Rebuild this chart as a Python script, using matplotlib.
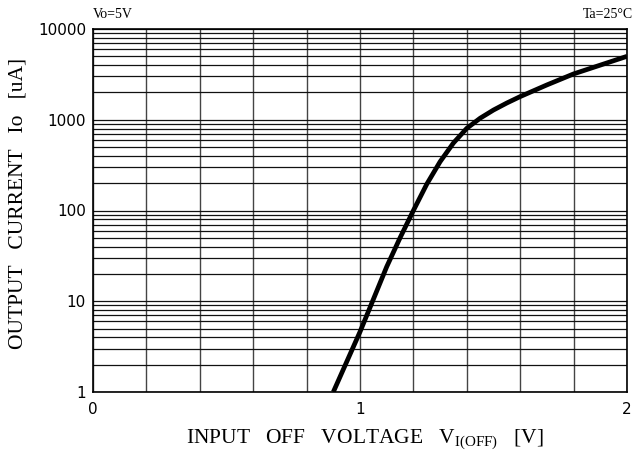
import matplotlib
matplotlib.use('Agg')
import numpy as np
import matplotlib.pyplot as plt
from matplotlib.ticker import FixedLocator, NullFormatter

# curve
v_in = [0.90, 1.00, 1.05, 1.10, 1.15, 1.20, 1.25, 1.30, 1.35, 1.40,
        1.45, 1.50, 1.55, 1.60, 1.70, 1.80, 1.90, 2.00]
i_out = [1, 4.6, 10.5, 24, 50, 100, 195, 345, 555, 805,
         1040, 1280, 1530, 1800, 2420, 3200, 4000, 5000]

x_ticks = [0, 1, 2]
x_grid = np.arange(0, 2.01, 0.2)
y_ticks = [1, 10, 100, 1000, 10000]
y_ticklabels = ['1', '10', '100', '1000', '10000']

fig = plt.figure(figsize=(6.36, 4.55), dpi=100)
ax = fig.add_axes([93/636, 63/455, 534/636, 363/455])

ax.set_yscale('log')
ax.set_xlim(0, 2)
ax.set_ylim(1, 10000)

# grid lines
minor_y = [m * 10**d for d in range(4) for m in range(2, 10)]
for xv in x_grid:
    ax.axvline(xv, color='#444444', lw=1.0, zorder=1)
for yv in y_ticks + minor_y:
    ax.axhline(yv, color='#111111', lw=0.9, zorder=1)

ax.plot(v_in, i_out, color='black', lw=3.4, solid_capstyle='butt',
        solid_joinstyle='round', zorder=3)

for s in ax.spines.values():
    s.set_color('black')
    s.set_linewidth(1.2)

ax.xaxis.set_major_locator(FixedLocator(x_ticks))
ax.set_xticklabels([str(t) for t in x_ticks])
ax.yaxis.set_major_locator(FixedLocator(y_ticks))
ax.set_yticklabels(y_ticklabels)
ax.yaxis.set_minor_locator(FixedLocator(minor_y))
ax.yaxis.set_minor_formatter(NullFormatter())
ax.tick_params(which='both', length=0)
ax.tick_params(axis='y', pad=5, labelsize=11)
ax.tick_params(axis='x', pad=7, labelsize=11)
for lab in ax.get_xticklabels() + ax.get_yticklabels():
    lab.set_family('DejaVu Sans')

fig.text(365/636, 1 - 440/455,
         'INPUT   OFF   VOLTAGE   V$_{\\mathregular{I(OFF)}}$   [V]',
         family='Liberation Serif', fontsize=15.5, ha='center', va='center')
fig.text(18/636, 1 - 203/455, 'OUTPUT   CURRENT   Io   [uA]',
         family='Liberation Serif', fontsize=15.5, ha='center', va='center',
         rotation=90)

fig.text(93/636, 1 - 14/455, 'Vo=5V', family='Liberation Serif',
         fontsize=10, ha='left', va='center')
fig.text(633/636, 1 - 14/455, 'Ta=25°C', family='Liberation Serif',
         fontsize=10, ha='right', va='center')

fig.savefig('out.png', dpi=100)
